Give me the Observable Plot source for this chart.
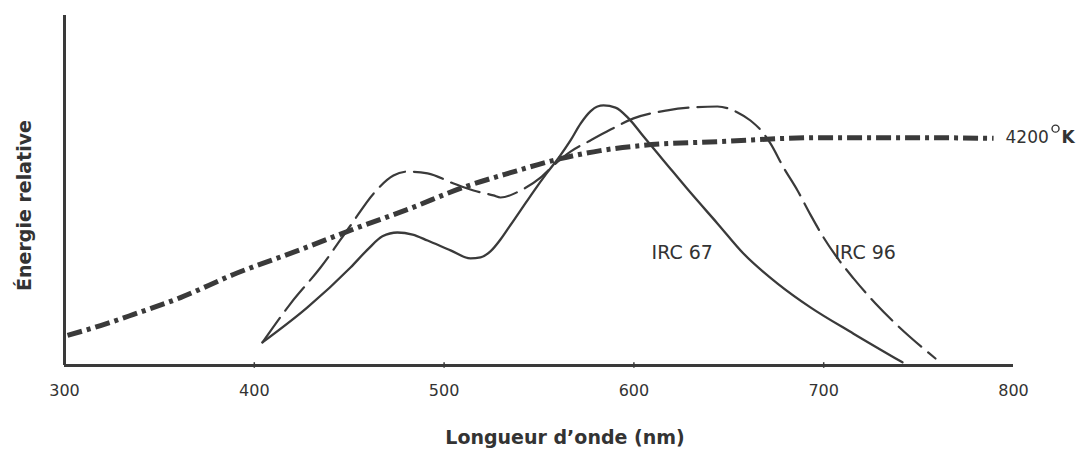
<!DOCTYPE html>
<html>
<head>
<meta charset="utf-8">
<script src="https://cdn.jsdelivr.net/npm/d3@7"></script>
<script src="https://cdn.jsdelivr.net/npm/@observablehq/plot@0.6"></script>
<style>
  html, body { margin: 0; padding: 0; background: #fff; }
  #chart svg { display: block; }
</style>
</head>
<body>
<div id="chart"></div>
<script>
// ---- Data ----
const xTicks = [300, 400, 500, 600, 700, 800];
const xLabel = "Longueur d\u2019onde (nm)";
const yLabel = "\u00C9nergie relative";

// IRC 67 (solid)
const irc67Nm  = [404.3, 428, 450.7, 460.2, 467.5, 475.4, 483.4, 491.3, 503.4, 513.9, 519.2, 524.4, 529.7, 533.4, 540.3, 547.1, 554, 560.8, 566.6, 571.9, 577.1, 580.8, 584, 590.3, 597.2, 605.1, 615.6, 629.8, 644, 657.7, 675.7, 693, 715.7, 741.5];
const irc67Val = [6.6, 16.6, 28, 33.4, 36.9, 38, 37.4, 35.7, 32.9, 30.6, 30.9, 32.6, 36, 38.9, 44.3, 49.7, 54.9, 59.7, 64.3, 69.1, 72.6, 74, 74.3, 73.7, 70.6, 65.4, 58.6, 49.4, 40.6, 32, 23.4, 16.6, 9.1, 0.9];

// IRC 96 (dashed)
const irc96Nm  = [404.3, 419.1, 434.9, 450.7, 462.8, 473.3, 480.7, 491.3, 505, 515.5, 526, 529.7, 540.3, 550.8, 558.7, 566.6, 577.1, 587.7, 599.8, 617.7, 629.8, 644, 654.6, 661.4, 668.3, 672, 678.8, 686.2, 693, 699.9, 707.8, 715.7, 727.3, 738.9, 758.9];
const irc96Val = [6.6, 17.7, 28, 40, 49.1, 54.3, 55.4, 54.9, 52, 50, 48.6, 48, 50, 53.7, 57.7, 61.1, 64.3, 67.4, 70.6, 72.9, 73.7, 74, 72.3, 70, 66.3, 63.4, 56.6, 50, 43.1, 36.6, 30.3, 24.9, 17.7, 11.4, 2];

// Corps noir 4200 K (dash-dot)
const bbNm  = [301.6, 319, 336.4, 361.1, 389, 424.3, 454.4, 482.3, 508.6, 535, 561.3, 582.4, 605.1, 645.6, 698.3, 751, 789.5];
const bbVal = [8.6, 11.4, 14.6, 19.4, 26, 33.1, 39.4, 44.9, 50.6, 55.1, 59.1, 61.4, 62.9, 64, 65.1, 65.1, 64.9];

// Curve labels (data-space anchors)
const curveLabels = [
  {text: "IRC 67", x: 609.3, y: 32.3},
  {text: "IRC 96", x: 705.7, y: 32.3}
];
const bbLabel = {num: "4200", unit: "K", x: 795.8, y: 65.1};

// ---- Build tables ----
const toRows = (xs, ys) => xs.map((x, i) => ({x, y: ys[i]}));
const irc67 = toRows(irc67Nm, irc67Val);
const irc96 = toRows(irc96Nm, irc96Val);
const bb = toRows(bbNm, bbVal);

const ink = "#3a3a3a";
const font = "DejaVu Sans";

const chart = Plot.plot({
  width: 1080,
  height: 450,
  marginLeft: 64,
  marginRight: 67,
  marginTop: 15,
  marginBottom: 85,
  style: {fontFamily: font, background: "#fff", color: "#333"},
  x: {domain: [300, 800], axis: null},
  y: {domain: [0, 100], axis: null},
  marks: [
    // tick labels
    Plot.text(xTicks, {x: d => d, y: 0, dy: 25, text: d => String(d), lineAnchor: "middle", fontSize: 16, fill: "#333"}),
    // small tick marks on the axis
    Plot.ruleX(xTicks.slice(1, -1), {y1: -0.8, y2: 0.8, stroke: ink, strokeWidth: 1.5}),
    // axis lines
    Plot.ruleY([0], {x1: 300, x2: 800, stroke: ink, strokeWidth: 3}),
    Plot.ruleX([300], {y1: 0, y2: 100, stroke: ink, strokeWidth: 3}),
    // curves
    Plot.line(bb, {x: "x", y: "y", curve: "monotone-x", stroke: ink, strokeWidth: 5, strokeDasharray: "15,5,4,5", strokeLinecap: "butt"}),
    Plot.line(irc96, {x: "x", y: "y", curve: "monotone-x", stroke: ink, strokeWidth: 2.2, strokeDasharray: "30,9"}),
    Plot.line(irc67, {x: "x", y: "y", curve: "monotone-x", stroke: ink, strokeWidth: 2.3}),
    // curve labels
    Plot.text(curveLabels, {x: "x", y: "y", text: "text", textAnchor: "start", lineAnchor: "middle", fontSize: 19, fill: "#333"}),
    Plot.text([bbLabel], {x: "x", y: "y", text: "num", textAnchor: "start", lineAnchor: "middle", fontSize: 17, fill: "#333"}),
    Plot.dot([bbLabel], {x: "x", y: "y", dx: 50, dy: -9, r: 3.5, stroke: "#333", strokeWidth: 1.4, fill: "none"}),
    Plot.text([bbLabel], {x: "x", y: "y", text: "unit", dx: 56, textAnchor: "start", lineAnchor: "middle", fontSize: 17, fontWeight: "bold", fill: "#333"}),
    // axis titles
    Plot.text([xLabel], {frameAnchor: "bottom", dx: 26, dy: 72, textAnchor: "middle", lineAnchor: "middle", fontSize: 19, fontWeight: "bold", fill: "#333"}),
    Plot.text([yLabel], {frameAnchor: "left", dx: -40, dy: 15, rotate: -90, textAnchor: "middle", lineAnchor: "middle", fontSize: 19, fontWeight: "bold", fill: "#333"})
  ]
});

document.getElementById("chart").appendChild(chart);
</script>
</body>
</html>
